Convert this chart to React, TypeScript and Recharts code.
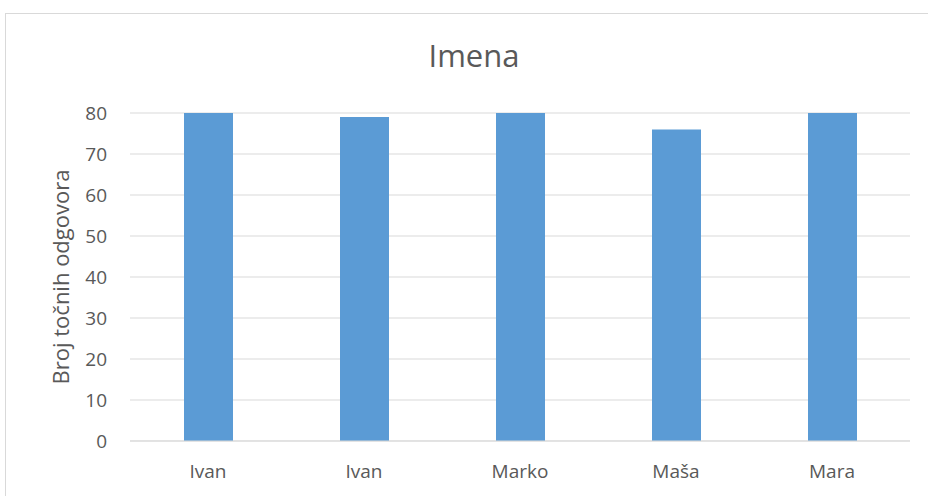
import React from 'react';
import { BarChart, Bar, XAxis, YAxis, CartesianGrid } from 'recharts';

const categories = ['Ivan', 'Ivan', 'Marko', 'Maša', 'Mara'];
const values = [80, 79, 80, 76, 80];
const yTicks = [0, 10, 20, 30, 40, 50, 60, 70, 80];
const title = 'Imena';
const yLabel = 'Broj točnih odgovora';

const data = categories.map((name, i) => ({ name, value: values[i] }));

const FONT = '"Open Sans", "Noto Sans", sans-serif';
const TEXT = '#595959';

export default function App() {
  return (
    <div style={{ position: 'absolute', left: 0, top: 0, width: 928, height: 496, overflow: 'hidden', background: '#fff' }}>
      <div style={{ position: 'absolute', left: 5, top: 13, width: 960, height: 520, border: '1px solid #d9d9d9', boxSizing: 'border-box' }} />
      <div style={{ position: 'absolute', left: 0, top: 0 }}>
        <BarChart width={928} height={496} data={data} margin={{ top: 113, right: 18, bottom: 25, left: 0 }}>
          <text x={474} y={67} textAnchor="middle" fontFamily={FONT} fontSize={31} fill={TEXT}>{title}</text>
          <CartesianGrid vertical={false} stroke="#d9d9d9" strokeWidth={1} />
          <XAxis
            dataKey="name"
            height={30}
            tickLine={false}
            tickSize={0}
            tickMargin={24}
            axisLine={{ stroke: '#d9d9d9', strokeWidth: 1 }}
            tick={{ fill: TEXT, fontSize: 19, fontFamily: FONT }}
            interval={0}
          />
          <YAxis
            width={130}
            domain={[0, 80]}
            ticks={yTicks}
            tickLine={false}
            axisLine={false}
            tickSize={0}
            tickMargin={23}
            tick={{ fill: TEXT, fontSize: 19, fontFamily: FONT }}
            label={{
              content: (props: any) => {
                const vb = props.viewBox || {};
                const cx = (vb.x || 0) + 60;
                const cy = (vb.y || 0) + (vb.height || 0) / 2;
                return (
                  <text x={cx} y={cy} transform={`rotate(-90, ${cx}, ${cy})`} textAnchor="middle" dominantBaseline="central" fontFamily={FONT} fontSize={22} fill={TEXT}>
                    {yLabel}
                  </text>
                );
              },
            }}
          />
          <Bar dataKey="value" fill="#5b9bd5" barSize={49} isAnimationActive={false} />
        </BarChart>
      </div>
    </div>
  );
}
